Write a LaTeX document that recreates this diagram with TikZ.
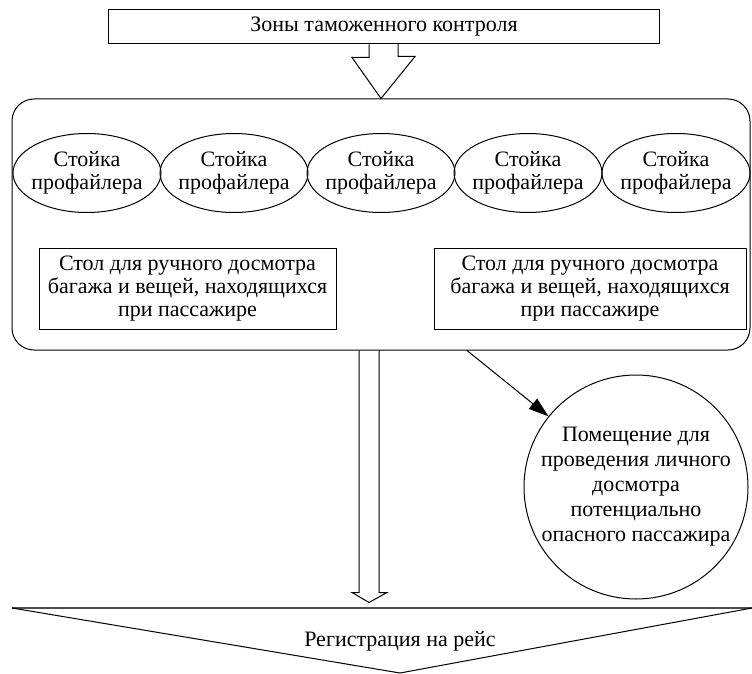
\documentclass[tikz,border=0pt]{standalone}
\usepackage{fontspec}
\setmainfont{Liberation Serif}
\usetikzlibrary{positioning,calc,arrows.meta,shapes.geometric}

\begin{document}
\begin{tikzpicture}[x = 1pt, y = -1pt, line width = 1pt,
	txt/.style = {font = \fontsize{22}{23}\selectfont, align = center},
	desk/.style = {draw, ellipse, txt, minimum width = 148pt, minimum height = 79pt, inner xsep = -8pt, inner ysep = 0pt},
	table/.style = {draw, txt, minimum height = 81pt, inner sep = 0pt}]
	\useasboundingbox (0, 0) rectangle (752, 674);
	\node[draw, txt, minimum width = 551pt, minimum height = 34pt, inner sep = 0pt] (zones) at (384, 27) {Зоны таможенного контроля};
	\node[draw, rounded corners = 22pt, minimum width = 738pt, minimum height = 251pt, inner sep = 0pt] (hall) at (381, 224.5) {};
	\foreach \x [count = \i] in {87, 234, 381, 528, 676}
		\node[desk] (desk\i) at (\x, 173) {Стойка\\профайлера};
	\node[table, minimum width = 297pt] (table1) at (187.5, 288.5) {Стол для ручного досмотра\\багажа и вещей, находящихся\\при пассажире};
	\node[table, minimum width = 312pt] (table2) at (590, 288.5) {Стол для ручного досмотра\\багажа и вещей, находящихся\\при пассажире};
	\node[draw, circle, minimum size = 224pt, inner sep = -8pt, font = \fontsize{22}{25}\selectfont, align = center] (room) at (636, 487)
		{Помещение для\\проведения личного\\досмотра\\потенциально\\опасного пассажира};
	\node[txt] (reg) at (400, 641) {Регистрация на рейс};
	\draw[line width = 1.6pt, black!70] (12, 608) -- (752, 608);
	\draw (12, 608) -- (400, 673) -- (752, 608);
	% hollow arrow into the hall
	\draw[line join = miter] (zones.south) ++(-15, 0) -- ++(0, 13) -- ++(-17, 0) -- (hall.north)
		-- ($(hall.north) + (34, -42)$) -- ++(-17, 0) -- ++(0, -13);
	% double arrow down to the check-in
	\coordinate (out) at ($(hall.south) + (-12, 0)$);
	\draw (out) ++(-10, 0) -- ++(0, 242) -- ++(-7, 0) -- ++(17, 10) -- ++(18, -10) -- ++(-8, 0) -- ++(0, -242);
	\draw[-{Triangle[length = 20pt, width = 13pt]}] ($(hall.south) + (86, 0)$) -- (room);
\end{tikzpicture}
\end{document}
